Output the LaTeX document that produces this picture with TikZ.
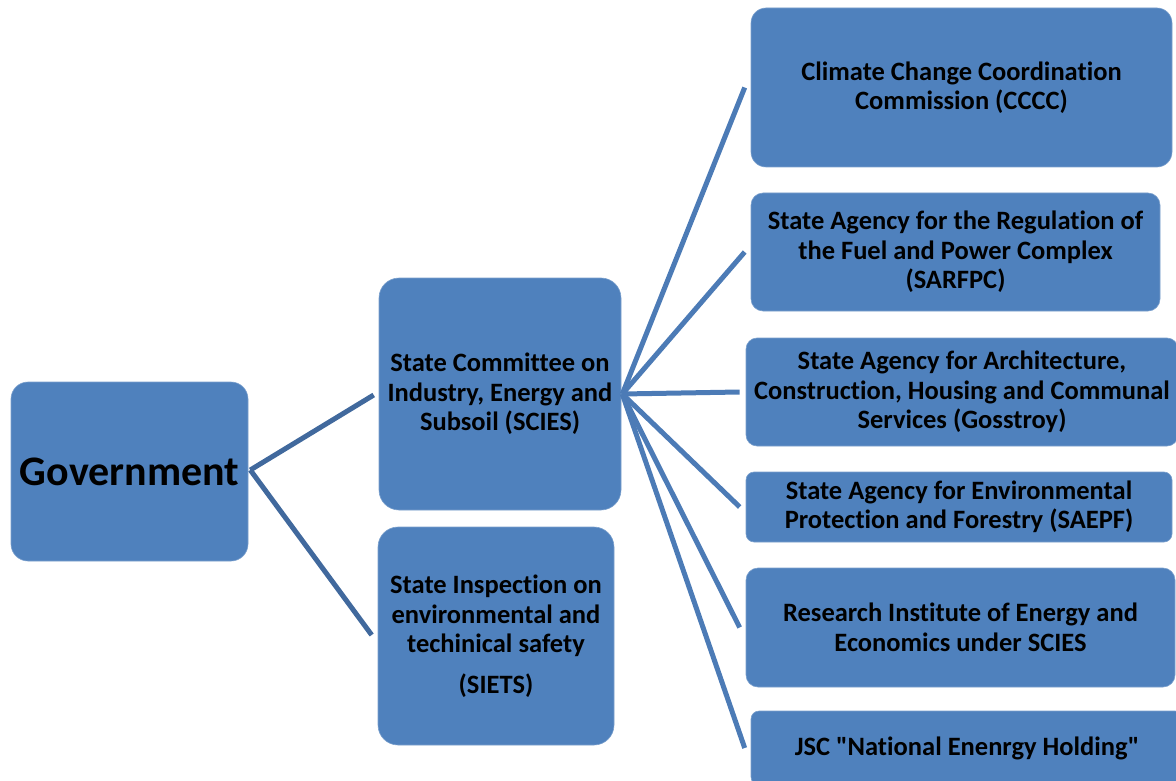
\documentclass[tikz,border=0pt]{standalone}
\usepackage{fontspec}
\newfontfamily\calfont{Carlito}[Ligatures=NoCommon]
\usetikzlibrary{calc}
\definecolor{boxblue}{HTML}{4F81BD}
\definecolor{govline}{HTML}{41699D}
\definecolor{subline}{HTML}{4C7BB6}
\begin{document}
\begin{tikzpicture}[x=1pt,y=-1pt,
  box/.style={shape=rectangle, fill=boxblue, draw=boxblue!75!white, line width=0.6pt,
    inner sep=0pt, align=center, text=black, font=\calfont\bfseries\fontsize{26.5}{29.5}\selectfont},
  govlink/.style={draw=govline, line width=5pt},
  sublink/.style={draw=subline, line width=5pt}]
\useasboundingbox (0,0) rectangle (1176,781);

\node[box, minimum width=237pt, minimum height=179pt, rounded corners=17pt,
  font=\calfont\bfseries\fontsize{42}{48}\selectfont] (gov) at (129.5,471.5) {Government};
\node[box, minimum width=242pt, minimum height=232pt, rounded corners=20pt] (scies) at (500,394)
  {State Committee on\\Industry, Energy and\\Subsoil (SCIES)};
\node[box, minimum width=236pt, minimum height=218pt, rounded corners=20pt] (siets) at (496,636)
  {State Inspection on\\environmental and\\techinical safety\\[11pt](SIETS)};

\node[box, minimum width=421pt, minimum height=159pt, rounded corners=15pt] (cccc) at (961.5,87.5)
  {Climate Change Coordination\\Commission (CCCC)};
\node[box, minimum width=409pt, minimum height=118pt, rounded corners=12pt] (sarfpc) at (955.5,252)
  {State Agency for the Regulation of\\the Fuel and Power Complex\\(SARFPC)};
\node[box, minimum width=432pt, minimum height=108pt, rounded corners=11pt] (gosstroy) at (962,392)
  {State Agency for Architecture,\\Construction, Housing and Communal\\Services (Gosstroy)};
\node[box, minimum width=426pt, minimum height=70pt, rounded corners=8pt] (saepf) at (959,507)
  {State Agency for Environmental\\Protection and Forestry (SAEPF)};
\node[box, minimum width=429pt, minimum height=119pt, rounded corners=12pt] (research) at (960.5,627.5)
  {Research Institute of Energy and\\Economics under SCIES};
\node[box, minimum width=432pt, minimum height=74pt, rounded corners=8pt] (jsc) at (967,748)
  {JSC "National Enenrgy Holding"};

\coordinate (govhub) at ($(gov.east)+(2,-1.5)$);
\coordinate (hub) at ($(scies.east)+(1,0)$);

\draw[govlink] (govhub) -- ($(scies.west)+(-5,1)$);
\draw[govlink] (govhub) -- ($(siets.west)+(-6,-1)$);

\foreach \t in {cccc,sarfpc,gosstroy,saepf,research,jsc}
  \draw[sublink] (hub) -- ($(\t.west)+(-6,0)$);
\end{tikzpicture}
\end{document}
